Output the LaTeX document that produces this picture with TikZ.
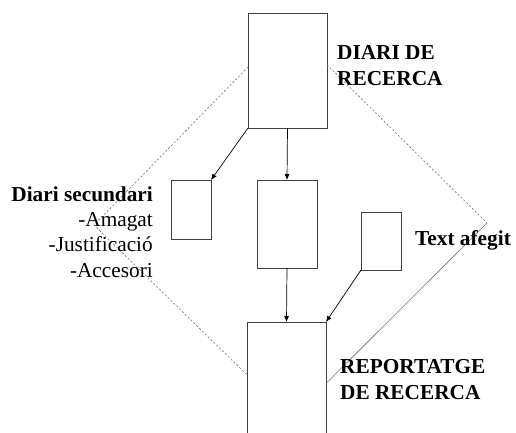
\documentclass[tikz,border=0pt]{standalone}
\usepackage{fontspec}
\setmainfont{Liberation Serif}
\usetikzlibrary{arrows, arrows.meta, positioning, calc}

\begin{document}
\begin{tikzpicture}[x=1pt,y=-1pt,
  caixa/.style={draw=black!75, line width=0.9pt, inner sep=0pt, outer sep=0pt},
  fletxa/.style={-{Latex[length=6pt,width=5pt]}, line width=0.7pt},
  guia/.style={draw=black!55, line width=0.6pt, dash pattern=on 2pt off 2pt},
  rotul/.style={font=\fontsize{21.3}{25.3}\selectfont, inner sep=0pt}]
\fill[white] (0,0) rectangle (516,433);
\useasboundingbox (0,0) rectangle (516,433);
\clip (0,0) rectangle (516,433);
% Caixes
\node[caixa, minimum width=79pt, minimum height=115pt] (diari) at (287.5,70.5) {};
\node[caixa, minimum width=40pt, minimum height=59pt] (secund) at (191,209.5) {};
\node[caixa, minimum width=60pt, minimum height=88pt] (mig) at (287,224) {};
\node[caixa, minimum width=40pt, minimum height=58pt] (afegit) at (381,241) {};
\node[caixa, minimum width=79pt, minimum height=123pt] (report) at (286.5,383.5) {};
% Fletxes
\draw[fletxa] (diari.south west) -- (secund.north east);
\draw[fletxa] (diari.south) -- (mig.north);
\draw[fletxa] (mig.south) -- (report.north);
\draw[fletxa] (afegit.south west) -- (report.north east);
% Rombe de guies
\coordinate (esq) at (94,225);
\coordinate (dre) at (487,223);
\draw[guia] ($(diari.north west)!0.47!(diari.south west)$) -- (esq) -- ($(report.north west)!0.43!(report.south west)$);
\draw[guia] ($(diari.north east)!0.45!(diari.south east)$) -- (dre);
\draw[black!55, line width=0.6pt] (dre) -- (report.east);
% Textos
\node[rotul, anchor=base west, align=left, font=\bfseries\fontsize{21.3}{26}\selectfont] (tdiari) at (337,86) {DIARI DE\\RECERCA};
\node[rotul, anchor=base east, align=right] (tsecund) at (153,277) {\textbf{Diari secundari}\\-Amagat\\-Justificació\\-Accesori};
\node[rotul, anchor=base west, font=\bfseries\fontsize{21.3}{26}\selectfont] (tafegit) at (415,245) {Text afegit};
\node[rotul, anchor=base west, align=left, font=\bfseries\fontsize{21.3}{26}\selectfont] (treport) at (340,399) {REPORTATGE\\DE RECERCA};
\end{tikzpicture}
\end{document}
